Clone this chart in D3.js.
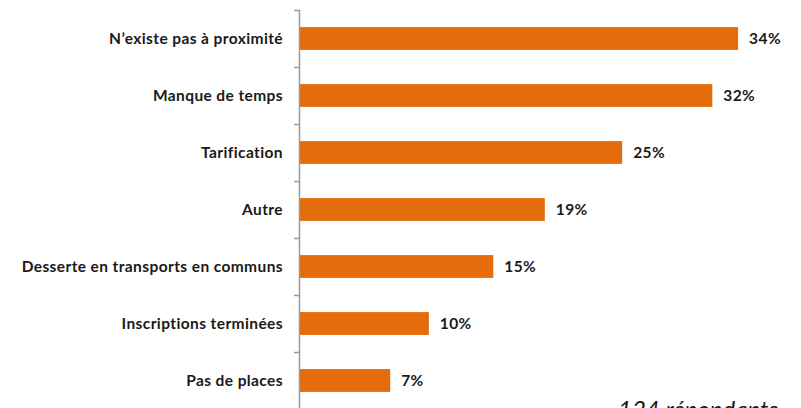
<!DOCTYPE html>
<html>
<head>
<meta charset="utf-8">
<script src="https://cdn.jsdelivr.net/npm/d3@7"></script>
<style>
  html, body { margin: 0; padding: 0; background: #fff; overflow: hidden; }
  svg { display: block; }
</style>
</head>
<body>
<svg id="chart" width="801" height="408"></svg>
<script>
// Reasons given, top to bottom
const categories = [
  "N\u2019existe pas à proximité",
  "Manque de temps",
  "Tarification",
  "Autre",
  "Desserte en transports en communs",
  "Inscriptions terminées",
  "Pas de places"
];
// Share of respondents (%)
const values = [34, 32, 25, 19, 15, 10, 7];
const footnote = "124 répondants";

const svg = d3.select("#chart");
const font = "Lato, 'Open Sans', sans-serif";

const x = d3.scaleLinear().domain([0, 35]).range([300, 751]);
const y = d3.scaleBand().domain(categories).range([10, 409]).paddingInner(0.6).paddingOuter(0.3);
const yTicks = d3.scaleBand().domain(categories).range([10, 409]);

// Bars
svg.append("g").selectAll("rect")
  .data(categories)
  .join("rect")
  .attr("x", x(0))
  .attr("y", d => y(d))
  .attr("width", (d, i) => x(values[i]) - x(0))
  .attr("height", y.bandwidth())
  .attr("fill", "#E46C0A");

// Category axis: vertical line with ticks at category boundaries
const axis = svg.append("g");
axis.append("line")
  .attr("x1", 299.5).attr("x2", 299.5)
  .attr("y1", 10).attr("y2", 409)
  .attr("stroke", "#9a9a9a").attr("stroke-width", 1.5);
const boundaries = categories.map(c => yTicks(c)).concat([409]);
axis.selectAll("line.tick")
  .data(boundaries)
  .join("line")
  .attr("class", "tick")
  .attr("x1", 294).attr("x2", 299.5)
  .attr("y1", d => Math.round(d) + 0.5).attr("y2", d => Math.round(d) + 0.5)
  .attr("stroke", "#9a9a9a").attr("stroke-width", 1.5);

// Category labels
svg.append("g").selectAll("text")
  .data(categories)
  .join("text")
  .attr("x", 283)
  .attr("y", d => yTicks(d) + yTicks.bandwidth() / 2)
  .attr("dy", "0.35em")
  .attr("text-anchor", "end")
  .attr("font-family", font)
  .attr("font-weight", "bold")
  .attr("font-size", 15.5)
  .attr("letter-spacing", 0.4)
  .attr("fill", "#1a1a1a")
  .text(d => d);

// Value labels
svg.append("g").selectAll("text")
  .data(categories)
  .join("text")
  .attr("x", (d, i) => x(values[i]) + 11)
  .attr("y", d => y(d) + y.bandwidth() / 2)
  .attr("dy", "0.35em")
  .attr("font-family", font)
  .attr("font-weight", "bold")
  .attr("font-size", 15.5)
  .attr("letter-spacing", 0.4)
  .attr("fill", "#1a1a1a")
  .text((d, i) => values[i] + "%");

// Respondent count
svg.append("text")
  .attr("x", 618)
  .attr("y", 418)
  .attr("font-family", font)
  .attr("font-style", "italic")
  .attr("font-size", 24)
  .attr("fill", "#1a1a1a")
  .text(footnote);
</script>
</body>
</html>
